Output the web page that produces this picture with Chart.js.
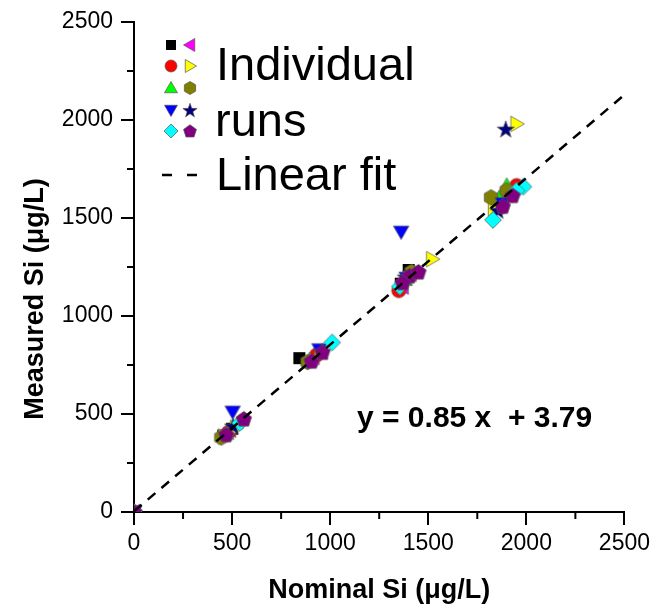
<!DOCTYPE html>
<html>
<head>
<meta charset="utf-8">
<script src="https://cdn.jsdelivr.net/npm/chart.js@4.4.1/dist/chart.umd.min.js"></script>
<style>
  html, body { margin: 0; padding: 0; background: #fff; }
  #wrap { width: 655px; height: 606px; }
</style>
</head>
<body>
<div id="wrap"><canvas id="chart1" width="655" height="606"></canvas></div>
<script>
// data (nominal, measured)
var squareRuns = [[0, 0], [455, 390], [500, 425], [843, 785], [1400, 1235], [1360, 1165], [1880, 1590]];
var leftTriRuns = [[0, 0], [490, 420], [915, 790], [1370, 1150], [1410, 1215], [1900, 1620], [1860, 1595]];
var circleRuns = [[0, 0], [480, 405], [930, 800], [1350, 1130], [1950, 1665], [1870, 1555]];
var rightTriRuns = [[0, 0], [460, 385], [520, 430], [950, 810], [1520, 1290], [1400, 1190], [1950, 1980], [1835, 1545]];
var upTriRuns = [[0, 0], [470, 400], [895, 775], [1380, 1185], [1900, 1665], [1860, 1600]];
var hexagonRuns = [[0, 0], [445, 380], [885, 765], [1415, 1225], [1820, 1605], [1900, 1640]];
var downTriRuns = [[0, 0], [503, 512], [945, 830], [1362, 1430], [1390, 1195], [1880, 1575]];
var starRuns = [[0, 0], [505, 440], [960, 820], [1385, 1200], [1895, 1955], [1855, 1540]];
var diamondRuns = [[0, 0], [540, 455], [1010, 865], [1355, 1150], [1985, 1660], [1830, 1490], [1950, 1640]];
var pentagonRuns = [[0, 0], [560, 475], [470, 395], [905, 770], [960, 815], [1405, 1205], [1370, 1170], [1450, 1225], [1930, 1615], [1880, 1560]];

var fitSlope = 0.85;
var fitIntercept = 3.79;
var fitRange = [0, 2500];
var axisTicks = [0, 500, 1000, 1500, 2000, 2500];

var runs = [
    { data: squareRuns, shape: "square", color: "#000000" },
    { data: leftTriRuns, shape: "left", color: "#ff00ff" },
    { data: circleRuns, shape: "circle", color: "#ff0000" },
    { data: rightTriRuns, shape: "right", color: "#ffff00" },
    { data: upTriRuns, shape: "up", color: "#00ff00" },
    { data: hexagonRuns, shape: "hexagon", color: "#808000" },
    { data: downTriRuns, shape: "down", color: "#0000ff" },
    { data: starRuns, shape: "star", color: "#000080" },
    { data: diamondRuns, shape: "diamond", color: "#00ffff" },
    { data: pentagonRuns, shape: "pentagon", color: "#800080" }
];

function polygon(ctx, cx, cy, r, n, rot) {
    ctx.beginPath();
    for (let i = 0; i < n; i++) {
        let a = rot + i * 2 * Math.PI / n;
        ctx.lineTo(cx + r * Math.cos(a), cy + r * Math.sin(a));
    }
    ctx.closePath();
}

function makeMarker(shape, color, k) {
    var c = document.createElement("canvas");
    c.width = Math.ceil(18 * k);
    c.height = Math.ceil(18 * k);
    var ctx = c.getContext("2d");
    var cx = c.width / 2, cy = c.height / 2;
    ctx.fillStyle = color;
    ctx.strokeStyle = "#555";
    ctx.lineWidth = 0.7;
    if (shape == "square") {
        ctx.beginPath();
        ctx.rect(cx - 5 * k, cy - 5 * k, 10 * k, 10 * k);
    } else if (shape == "circle") {
        ctx.beginPath();
        ctx.arc(cx, cy, 6 * k, 0, 2 * Math.PI);
    } else if (shape == "up") {
        polygon(ctx, cx, cy + k, 7.5 * k, 3, -Math.PI / 2);
    } else if (shape == "down") {
        polygon(ctx, cx, cy - k, 7.5 * k, 3, Math.PI / 2);
    } else if (shape == "left") {
        polygon(ctx, cx + k, cy, 7.5 * k, 3, Math.PI);
    } else if (shape == "right") {
        polygon(ctx, cx - k, cy, 7.5 * k, 3, 0);
    } else if (shape == "hexagon") {
        polygon(ctx, cx, cy, 6.5 * k, 6, Math.PI / 6);
    } else if (shape == "pentagon") {
        polygon(ctx, cx, cy + 0.5 * k, 6.8 * k, 5, -Math.PI / 2);
    } else if (shape == "diamond") {
        polygon(ctx, cx, cy, 7 * k, 4, 0);
    } else if (shape == "star") {
        ctx.beginPath();
        for (let i = 0; i < 10; i++) {
            let a = -Math.PI / 2 + i * Math.PI / 5;
            let r = (i % 2 == 0 ? 7.5 : 3) * k;
            ctx.lineTo(cx + r * Math.cos(a), cy + 0.8 * k + r * Math.sin(a));
        }
        ctx.closePath();
    }
    ctx.fill();
    if (shape != "square") ctx.stroke();
    return c;
}

var markers = runs.map(function (r) { return makeMarker(r.shape, r.color, 1.2); });
var legendMarkers = runs.map(function (r) { return makeMarker(r.shape, r.color, 1); });

var datasets = runs.map(function (r, i) {
    return {
        type: "scatter",
        data: r.data.map(function (p) { return { x: p[0], y: p[1] }; }),
        pointStyle: markers[i],
        pointRadius: 7,
        order: 10 - i
    };
});
datasets.push({
    type: "line",
    data: fitRange.map(function (x) { return { x: x, y: fitSlope * x + fitIntercept }; }),
    borderColor: "#000",
    borderWidth: 2.5,
    borderDash: [10, 8],
    pointRadius: 0,
    fill: false,
    order: 0
});

var extras = {
    id: "extras",
    afterDraw: function (chart) {
        var ctx = chart.ctx;
        var xs = chart.scales.x, ys = chart.scales.y;
        ctx.save();
        // minor ticks
        ctx.strokeStyle = "#000";
        ctx.lineWidth = 2;
        for (let v = 250; v < 2500; v += 500) {
            let px = xs.getPixelForValue(v);
            ctx.beginPath();
            ctx.moveTo(px, ys.bottom);
            ctx.lineTo(px, ys.bottom + 7);
            ctx.stroke();
            let py = ys.getPixelForValue(v);
            ctx.beginPath();
            ctx.moveTo(xs.left, py);
            ctx.lineTo(xs.left - 7, py);
            ctx.stroke();
        }
        // legend
        var rowsY = [45, 66, 88, 110, 131];
        for (let i = 0; i < runs.length; i++) {
            let col = i % 2, row = Math.floor(i / 2);
            let mx = col == 0 ? 171 : 190;
            let m = legendMarkers[i];
            ctx.drawImage(m, mx - m.width / 2, rowsY[row] - m.height / 2);
        }
        ctx.fillStyle = "#000";
        ctx.font = "47px 'Liberation Sans', Arial, sans-serif";
        ctx.textBaseline = "alphabetic";
        ctx.textAlign = "left";
        ctx.fillText("Individual", 216, 80);
        ctx.fillText("runs", 215, 136);
        ctx.fillText("Linear fit", 216, 190);
        ctx.lineWidth = 2.5;
        ctx.beginPath();
        ctx.moveTo(162, 175); ctx.lineTo(172, 175);
        ctx.moveTo(187, 175); ctx.lineTo(197, 175);
        ctx.stroke();
        // equation
        ctx.font = "bold 30px 'Liberation Sans', Arial, sans-serif";
        ctx.fillText("y = 0.85 x  + 3.79", 357, 427);
        // axis titles
        ctx.font = "bold 27px 'Liberation Sans', Arial, sans-serif";
        ctx.textAlign = "center";
        ctx.fillText("Nominal Si (\u03bcg/L)", (xs.left + xs.right) / 2, 598);
        ctx.translate(36, 299);
        ctx.rotate(-Math.PI / 2);
        ctx.textBaseline = "middle";
        ctx.fillText("Measured Si (\u03bcg/L)", 0, 0);
        ctx.restore();
    }
};

function axisOptions(isX) {
    return {
        type: "linear",
        min: 0,
        max: 2500,
        afterBuildTicks: function (scale) {
            scale.ticks = axisTicks.map(function (v) { return { value: v }; });
        },
        afterFit: function (scale) {
            if (isX) scale.height = 94; else scale.width = 134;
        },
        border: { color: "#000", width: 2 },
        grid: { drawOnChartArea: false, color: "#000", lineWidth: 2, tickLength: 13 },
        ticks: {
            color: "#000",
            autoSkip: false,
            maxRotation: 0,
            padding: isX ? 5 : 8,
            callback: function (v) { return String(v); },
            font: { family: "'Liberation Sans', Arial, sans-serif", size: 23 }
        },
        title: { display: false }
    };
}

new Chart("chart1", {
    type: "scatter",
    data: { datasets: datasets },
    plugins: [extras],
    options: {
        responsive: false,
        animation: false,
        layout: { padding: { top: 22, right: 29, left: 0, bottom: 0 } },
        plugins: {
            legend: { display: false },
            tooltip: { enabled: false }
        },
        scales: {
            x: axisOptions(true),
            y: axisOptions(false)
        }
    }
});
</script>
</body>
</html>
